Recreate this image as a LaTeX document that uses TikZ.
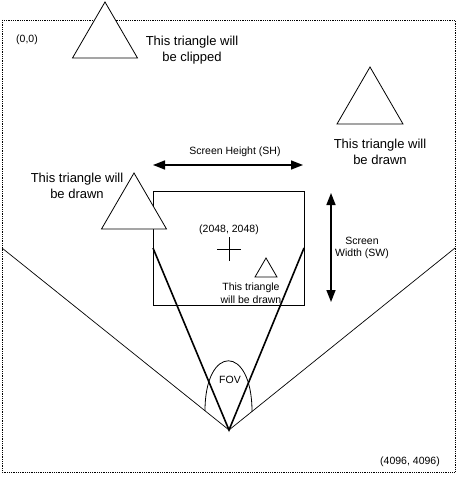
\documentclass[tikz,border=0pt]{standalone}
\usepackage{fontspec}
\setmainfont{Liberation Sans}
\usetikzlibrary{arrows.meta}

\begin{document}
\begin{tikzpicture}[
        x=1pt, y=-1pt,
        every node/.style={inner sep=0pt, align=center, font=\fontsize{13}{16}\selectfont},
        small/.style={font=\fontsize{10.5}{12.5}\selectfont},
        tri/.style={draw, fill=white, line width=0.8pt, line join=miter},
        dimarrow/.style={line width=1.5pt, {Triangle[length=12pt,width=9pt]}-{Triangle[length=12pt,width=9pt]}},
    ]
    \useasboundingbox (0,0) rectangle (458,478);
    % world border
    \draw[dash pattern=on 0.9pt off 0.9pt, line width=0.9pt] (2,20) rectangle (455,472);
    % screen
    \coordinate (scrTL) at (153,191);
    \coordinate (scrBR) at (304,305);
    \draw[line width=0.8pt] (scrTL) rectangle (scrBR);
    % view lines
    \coordinate (eye) at (229,430);
    \coordinate (fovL) at (2,248);
    \coordinate (fovR) at (455,248);
    \coordinate (scrL) at (153,248);
    \coordinate (scrR) at (304,248);
    \draw[line width=0.7pt] (fovL) -- (eye) -- (fovR);
    \draw[line width=1.6pt] (scrL) -- (eye) -- (scrR);
    \draw[line width=0.8pt] (205,410.8) .. controls (205,344) and (252,344) .. (252,411.5);
    % triangles
    \coordinate (t1) at (105,2);
    \coordinate (t2) at (370,67);
    \coordinate (t3) at (134,173);
    \coordinate (t4) at (266,258);
    \draw[tri] (t1) -- ++(-32.5,56) -- ++(65,0) -- cycle;
    \draw[tri] (t2) -- ++(-33,57) -- ++(66,0) -- cycle;
    \draw[tri] (t3) -- ++(-32.5,56) -- ++(65,0) -- cycle;
    \draw[tri] (t4) -- ++(-11,19) -- ++(22,0) -- cycle;
    % centre cross
    \coordinate (centre) at (229,249);
    \draw[line width=0.8pt] (centre) +(-12,0) -- +(12,0) (centre) +(0,-12) -- +(0,12);
    % dimension arrows
    \coordinate (shL) at (153,165);
    \coordinate (shR) at (303,165);
    \coordinate (swT) at (331,193);
    \coordinate (swB) at (331,302);
    \draw[dimarrow] (shL) -- (shR);
    \draw[dimarrow] (swT) -- (swB);
    % labels
    \node[small] (origin) at (27,40) {(0,0)};
    \node (clipTxt) at (192,50) {This triangle will\\be clipped};
    \node (rightTxt) at (380,152) {This triangle will\\be drawn};
    \node (leftTxt) at (77,186) {This triangle will\\be drawn};
    \node[small] (shTxt) at (235,152) {Screen Height (SH)};
    \node[small] (swTxt) at (362,248) {Screen\\Width (SW)};
    \node[small] (centreTxt) at (229,230) {(2048, 2048)};
    \node[small] (smallTxt) at (251,293) {This triangle\\will be drawn};
    \node[small] (fovTxt) at (230,380) {FOV};
    \node[small] (endTxt) at (410,462) {(4096, 4096)};
\end{tikzpicture}
\end{document}
